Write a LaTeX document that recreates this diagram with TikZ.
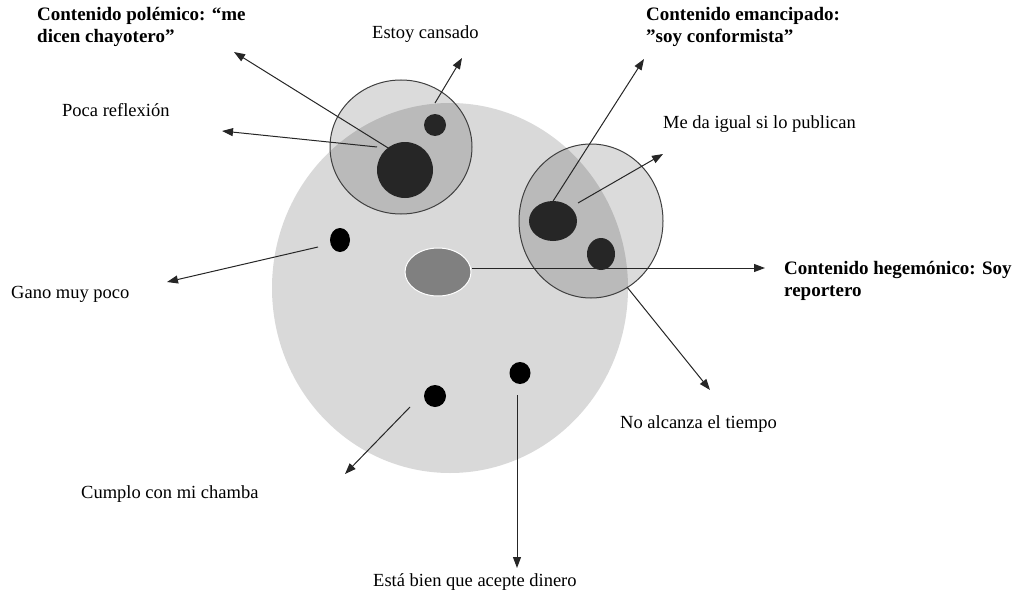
\documentclass[tikz,border=0pt]{standalone}
\usepackage{fontspec}
\setmainfont{Liberation Serif}
\usetikzlibrary{arrows.meta,shapes.geometric}

\begin{document}
\begin{tikzpicture}[x=1pt, y=-1pt,
    lbl/.style={anchor=base west, inner sep=0pt, font=\fontsize{18.5}{22.5}\selectfont},
    bold lbl/.style={lbl, anchor=north west, align=left, font=\fontsize{19}{22.5}\selectfont\bfseries},
    blob/.style={shape=ellipse, inner sep=0pt},
    zone/.style={blob, draw=black!75, line width=1pt, fill=black, fill opacity=0.14},
    dark/.style={blob, fill=black!85},
    dot/.style={blob, fill=black},
    arr/.style={-{Triangle[length=11pt,width=8pt]}, line width=1pt, draw=black!85}]
      \useasboundingbox (0,0) rectangle (1012,594);

      % the whole field
      \node[blob, fill=black!15, minimum width=356pt, minimum height=370pt] (field) at (450,288) {};

      % the two overlapping zones
      \node[zone, minimum width=142pt, minimum height=134pt] (zoneL) at (401,147) {};
      \node[zone, minimum width=144pt, minimum height=154pt] (zoneR) at (591,221) {};

      \node[dark, minimum width=56pt, minimum height=56pt] (darkL) at (405,170) {};
      \node[dark, minimum width=22pt, minimum height=22pt] (darkLs) at (435,125) {};
      \node[dark, minimum width=48pt, minimum height=40pt] (darkR) at (553,221) {};
      \node[dark, minimum width=28pt, minimum height=32pt] (darkRs) at (601,254) {};

      \node[blob, fill=black!50, draw=white, line width=1pt, minimum width=66pt, minimum height=48pt] (core) at (438,272) {};
      \node[dot, minimum width=20pt, minimum height=24pt] (dotA) at (340,240) {};
      \node[dot, minimum width=22pt, minimum height=22pt] (dotB) at (435,396) {};
      \node[dot, minimum width=21pt, minimum height=22pt] (dotC) at (520,373) {};

      % labels
      \node[bold lbl] (polemico) at (37,7) {Contenido polémico: “me\\dicen chayotero”};
      \node[lbl] (cansado) at (372,39) {Estoy cansado};
      \node[lbl] (reflexion) at (62,116) {Poca reflexión};
      \node[bold lbl] (emancipado) at (646,7) {Contenido emancipado:\\”soy conformista”};
      \node[lbl] (igual) at (663,128) {Me da igual si lo publican};
      \node[bold lbl] (hegemonico) at (784,261) {Contenido hegemónico: Soy\\reportero};
      \node[lbl] (gano) at (11,298) {Gano muy poco};
      \node[lbl] (alcanza) at (620,428) {No alcanza el tiempo};
      \node[lbl] (chamba) at (81,498) {Cumplo con mi chamba};
      \node[lbl] (dinero) at (373,586) {Está bien que acepte dinero};

      % arrow ends
      \coordinate (s1) at (393,151);  \coordinate (t1) at (234,52);
      \coordinate (s2) at (377,147);  \coordinate (t2) at (222,131);
      \coordinate (s3) at (435,103);  \coordinate (t3) at (462,58);
      \coordinate (s4) at (548,209);  \coordinate (t4) at (644,59);
      \coordinate (s5) at (578,203);  \coordinate (t5) at (663,154);
      \coordinate (s6) at (472,268);  \coordinate (t6) at (765,268);
      \coordinate (s7) at (627,287);  \coordinate (t7) at (710,390);
      \coordinate (s8) at (318,247);  \coordinate (t8) at (167,282);
      \coordinate (s9) at (410,407);  \coordinate (t9) at (345,474);
      \coordinate (s10) at (517,395); \coordinate (t10) at (517,568);

      \path (s1) edge[arr] (t1);
      \path (s2) edge[arr] (t2);
      \path (s3) edge[arr] (t3);
      \path (s4) edge[arr] (t4);
      \path (s5) edge[arr] (t5);
      \path (s6) edge[arr] (t6);
      \path (s7) edge[arr] (t7);
      \path (s8) edge[arr] (t8);
      \path (s9) edge[arr] (t9);
      \path (s10) edge[arr] (t10);
    \end{tikzpicture}
\end{document}
